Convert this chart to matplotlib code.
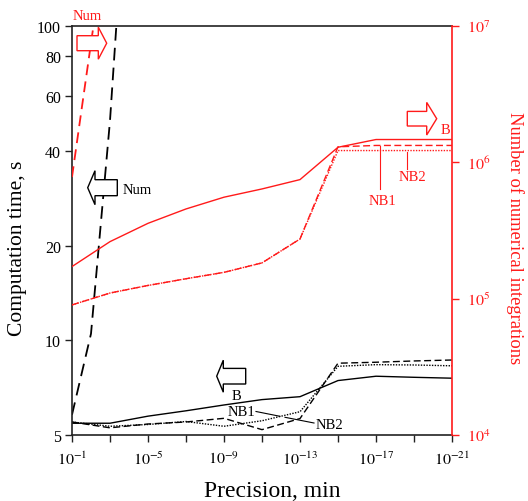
import matplotlib
matplotlib.use("Agg")
import matplotlib.pyplot as plt
from matplotlib.patches import Polygon
from matplotlib.ticker import FixedLocator, NullLocator, FixedFormatter, NullFormatter

plt.rcParams['font.family'] = ['Liberation Serif', 'DejaVu Serif']
plt.rcParams['mathtext.fontset'] = 'stix'

# Precision grid (min)
precision = [1e-1, 1e-3, 1e-5, 1e-7, 1e-9, 1e-11, 1e-13, 1e-15, 1e-17, 1e-19, 1e-21]

# Computation time, s
time_B = [5.45, 5.45, 5.74, 5.97, 6.23, 6.48, 6.62, 7.45, 7.69, 7.63, 7.58]
time_NB1 = [5.5, 5.27, 5.42, 5.5, 5.65, 5.2, 5.64, 8.46, 8.52, 8.6, 8.66]
time_NB2 = [5.5, 5.33, 5.4, 5.52, 5.33, 5.55, 5.93, 8.27, 8.37, 8.35, 8.3]
precision_num = [1e-1, 1e-2, 1e-3, 1e-4]
time_Num = [5.8, 10.5, 50, 400]

# Number of numerical integrations
nint_B = [1.72e5, 2.62e5, 3.57e5, 4.55e5, 5.55e5, 6.38e5, 7.47e5, 1.29e6, 1.47e6, 1.47e6, 1.47e6]
nint_NB1 = [9.0e4, 1.10e5, 1.25e5, 1.40e5, 1.56e5, 1.83e5, 2.74e5, 1.30e6, 1.33e6, 1.33e6, 1.33e6]
nint_NB2 = [9.0e4, 1.10e5, 1.25e5, 1.40e5, 1.56e5, 1.83e5, 2.74e5, 1.22e6, 1.22e6, 1.22e6, 1.22e6]
nint_Num = [7.8e5, 7.5e6, 7.0e7]

x_major = [1e-1, 1e-5, 1e-9, 1e-13, 1e-17, 1e-21]
x_minor = [1e-3, 1e-7, 1e-11, 1e-15, 1e-19]
x_labels = [r'$10^{-1}$', r'$10^{-5}$', r'$10^{-9}$', r'$10^{-13}$', r'$10^{-17}$', r'$10^{-21}$']
t_ticks = [5, 10, 20, 40, 60, 80, 100]
n_ticks = [1e4, 1e5, 1e6, 1e7]
n_labels = [r'$10^{4}$', r'$10^{5}$', r'$10^{6}$', r'$10^{7}$']

W, H = 528, 502
fig = plt.figure(figsize=(W / 100, H / 100), dpi=100)
ax = fig.add_axes([72 / W, 1 - 436 / H, 380 / W, 409 / H])
ax2 = ax.twinx()

RED = '#ff1a1a'
DARK = '#222222'

# left axis: computation time
ax.plot(precision, time_B, color='black', lw=1.0, ls='-')
ax.plot(precision, time_NB1, color='black', lw=1.0, ls=(0, (5, 2.5)))
ax.plot(precision, time_NB2, color='black', lw=1.0, ls=(0, (1, 1)))
ax.plot(precision_num, time_Num, color='black', lw=1.3, ls=(0, (7, 4)))

# right axis: numerical integrations
ax2.plot(precision, nint_B, color=RED, lw=1.0, ls='-')
ax2.plot(precision, nint_NB1, color=RED, lw=1.0, ls=(0, (5, 2.5)))
ax2.plot(precision, nint_NB2, color=RED, lw=1.0, ls=(0, (1, 1)))
ax2.plot(precision_num[:3], nint_Num, color=RED, lw=1.3, ls=(0, (6, 3.5)))

ax.set_xscale('log')
ax.set_yscale('log')
ax2.set_yscale('log')
ax.set_xlim(1e-1, 1e-21)
ax.set_ylim(5, 100)
ax2.set_ylim(1e4, 1e7)

ax.xaxis.set_major_locator(FixedLocator(x_major))
ax.xaxis.set_major_formatter(FixedFormatter(x_labels))
ax.xaxis.set_minor_locator(FixedLocator(x_minor))
ax.xaxis.set_minor_formatter(NullFormatter())
ax.yaxis.set_major_locator(FixedLocator(t_ticks))
ax.yaxis.set_major_formatter(FixedFormatter([str(t) for t in t_ticks]))
ax.yaxis.set_minor_locator(NullLocator())
ax2.yaxis.set_major_locator(FixedLocator(n_ticks))
ax2.yaxis.set_major_formatter(FixedFormatter(n_labels))
ax2.yaxis.set_minor_locator(NullLocator())

ax.tick_params(axis='x', which='both', direction='out', length=5, width=1.0,
               color=DARK, labelsize=11.5, pad=6)
ax.tick_params(axis='y', which='both', direction='out', length=5, width=1.0,
               color=DARK, labelsize=11.5, pad=3)
ax2.tick_params(axis='y', which='both', direction='out', length=5, width=1.0,
                color=RED, labelcolor=RED, labelsize=11.5, pad=6)

for s in ['left', 'bottom', 'top']:
    ax.spines[s].set_color(DARK)
    ax.spines[s].set_linewidth(1.2)
ax.spines['right'].set_visible(False)
for s in ['left', 'bottom', 'top']:
    ax2.spines[s].set_visible(False)
ax2.spines['right'].set_color(RED)
ax2.spines['right'].set_linewidth(1.2)


def px(x, y):
    return (x / W, 1 - y / H)


# axis titles
fig.text(*px(272, 497), 'Precision, min', fontsize=17, ha='center', va='baseline')
fig.text(*px(18, 248), 'Computation time, s', fontsize=15.5, rotation=90,
         ha='center', va='center')
fig.text(*px(515, 238), 'Number of numerical integrations', fontsize=13.3,
         color=RED, rotation=-90, ha='center', va='center')


def block_arrow(x0, x1, xh, y_mid, half_body, half_head, color):
    """Hollow block arrow: body from x0 to xh, head from xh to tip x1."""
    pts = [(x0, y_mid - half_body), (xh, y_mid - half_body), (xh, y_mid - half_head),
           (x1, y_mid), (xh, y_mid + half_head), (xh, y_mid + half_body),
           (x0, y_mid + half_body)]
    poly = Polygon([px(a, b) for a, b in pts], closed=True, fill=True,
                   facecolor='white', edgecolor=color, lw=1.0,
                   transform=fig.transFigure, zorder=5)
    fig.add_artist(poly)


# arrows showing which axis each group refers to
block_arrow(77, 106.7, 98.3, 44.2, 7.5, 16, RED)
block_arrow(117.3, 87.7, 95, 188.7, 8, 17, 'black')
block_arrow(245.7, 216.7, 223.3, 377.2, 7.8, 16, 'black')
block_arrow(407.3, 436.7, 426.7, 119.7, 7.3, 16.3, RED)

fs = 10.5
fig.text(*px(87, 17), 'Num', color=RED, fontsize=fs, ha='center', va='center')
fig.text(*px(137, 190), 'Num', color='black', fontsize=fs, ha='center', va='center')
fig.text(*px(445.7, 131), 'B', color=RED, fontsize=fs, ha='center', va='center')
fig.text(*px(236.7, 397), 'B', color='black', fontsize=fs, ha='center', va='center')
fig.text(*px(382.7, 201.5), 'NB1', color=RED, fontsize=fs, ha='center', va='center')
fig.text(*px(412.3, 177.3), 'NB2', color=RED, fontsize=fs, ha='center', va='center')
fig.text(*px(241, 413), 'NB1', color='black', fontsize=fs, ha='center', va='center')
fig.text(*px(329, 426), 'NB2', color='black', fontsize=fs, ha='center', va='center')


def leader(x0, y0, x1, y1, color):
    fig.add_artist(plt.Line2D([x0 / W, x1 / W], [1 - y0 / H, 1 - y1 / H],
                              color=color, lw=0.8, transform=fig.transFigure))


leader(380, 146.5, 380, 190, RED)
leader(406.7, 152.5, 406.7, 170, RED)
leader(256, 412.5, 280, 417.3, 'black')
leader(314, 424, 285, 418.3, 'black')

fig.savefig('out.png', dpi=100)
